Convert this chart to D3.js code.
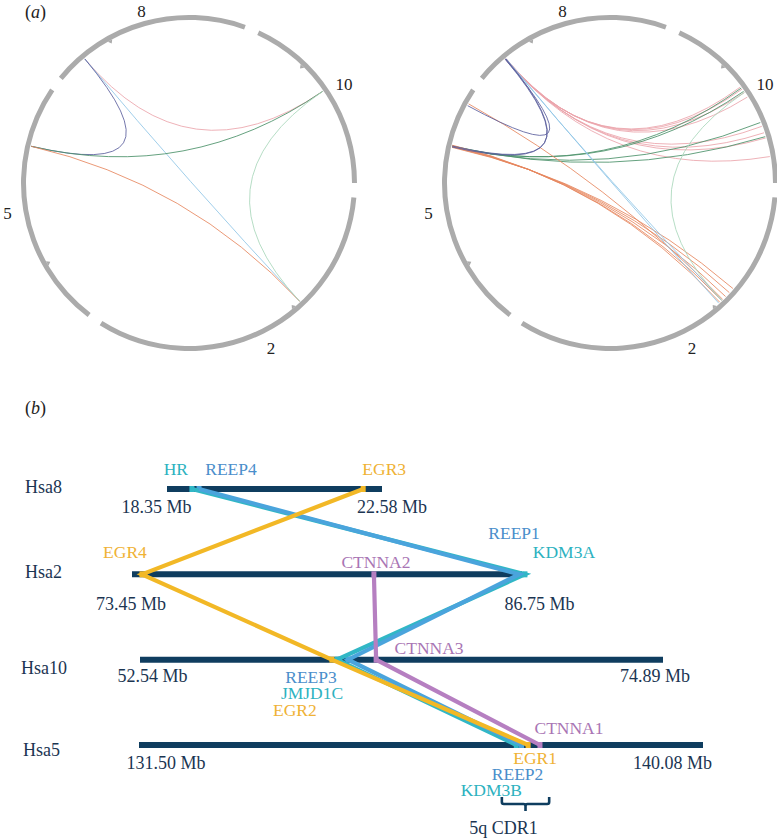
<!DOCTYPE html>
<html><head><meta charset="utf-8">
<script src="https://cdn.jsdelivr.net/npm/d3@7"></script>
<style>
body{margin:0;background:#fff}
svg{display:block}
svg text{font-family:'Liberation Serif','Times New Roman',Tinos,'DejaVu Serif','Noto Serif',Times,serif}
</style>
</head><body>
<svg id="c" width="777" height="838"></svg>
<script>
// ================= DATA =================
// (a) circos: chromosomes (Mb)
const circChroms = ["2", "5", "8", "10"];
const circLengths = [243.2, 180.9, 146.4, 135.5];
const circCentromeres = [93.3, 48.4, 45.2, 40.2];

// links: [chromA, posA (Mb), chromB, posB (Mb)]
const leftLinks = [
  ["8", 22.3, "10", 64],
  ["8", 22.3, "2", 87],
  ["8", 22.3, "5", 137],
  ["5", 137, "10", 64],
  ["5", 137, "2", 87],
  ["10", 64, "2", 87]
];
const rightLinks = [
  ["8", 21.8, "10", 60], ["8", 22.0, "10", 62], ["8", 22.3, "10", 65], ["8", 22.6, "10", 69],
  ["8", 21.9, "10", 93], ["8", 22.2, "10", 98], ["8", 22.5, "10", 102], ["8", 22.1, "10", 116],
  ["5", 136.6, "10", 61], ["5", 137.0, "10", 64], ["5", 136.8, "10", 90], ["5", 137.2, "10", 101],
  ["5", 136.2, "2", 74], ["5", 136.6, "2", 78], ["5", 137.0, "2", 82], ["5", 137.4, "2", 86], ["5", 137.8, "2", 88],
  ["5", 170.5, "2", 85],
  ["8", 22.2, "2", 86], ["8", 22.6, "2", 89],
  ["8", 21.8, "5", 136.5], ["8", 22.4, "5", 137.2], ["5", 169, "8", 22.0],
  ["10", 65, "2", 86]
];

// (b) synteny panel
const bChroms = ["Hsa8", "Hsa2", "Hsa10", "Hsa5"];
const bStart = [18.35, 73.45, 52.54, 131.50];
const bEnd = [22.58, 86.75, 74.89, 140.08];
const genes = ["HR", "REEP4", "EGR3", "EGR4", "CTNNA2", "REEP1", "KDM3A", "REEP3", "JMJD1C", "EGR2", "CTNNA3", "CTNNA1", "EGR1", "REEP2", "KDM3B"];
const geneChrom = ["Hsa8", "Hsa8", "Hsa8", "Hsa2", "Hsa2", "Hsa2", "Hsa2", "Hsa10", "Hsa10", "Hsa10", "Hsa10", "Hsa5", "Hsa5", "Hsa5", "Hsa5"];
const genePos = [18.84, 18.98, 22.21, 73.79, 81.70, 86.65, 86.85, 61.43, 60.96, 60.74, 62.63, 137.60, 137.42, 137.32, 137.24];
const geneFamily = ["KDM", "REEP", "EGR", "EGR", "CTNNA", "REEP", "KDM", "REEP", "KDM", "EGR", "CTNNA", "CTNNA", "EGR", "REEP", "KDM"];
const families = ["KDM", "REEP", "CTNNA", "EGR"];
const cdrRegion = [137.02, 137.74];

// ================= STYLE / LAYOUT =================
const pairColor = {"8|10": "#eba4ab", "8|2": "#8fc6e6", "8|5": "#5c5f9d", "5|10": "#4a9168", "5|2": "#e6875f", "10|2": "#a9d7bb"};
const famLine = {KDM: "#31b7c6", REEP: "#4aa4dc", EGR: "#f2b826", CTNNA: "#b67fc1"};
const famText = {KDM: "#2db2bf", REEP: "#4a8ecb", EGR: "#efb235", CTNNA: "#a975b4"};
const navy = "#0f3d5f", navyText = "#1b3552";

const barRange = [[167, 382], [132, 522], [140, 663], [139, 703]];
const rowLabel = [{x: 25, dy: -2}, {x: 25, dy: -3}, {x: 21, dy: 8}, {x: 23, dy: 5}];
const mbLab = [{s: -10.5, e: 10, dy: 18}, {s: -1, e: 17.5, dy: 29}, {s: 12.5, e: -8, dy: 16}, {s: 27, e: -30.5, dy: 18}];
const geneLab = {HR: [-16, -20], REEP4: [32, -20], EGR3: [21, -20], EGR4: [-17, -22], CTNNA2: [2, -12],
  REEP1: [-5, -41], KDM3A: [39, -22], REEP3: [-37, 17], JMJD1C: [-25, 33], EGR2: [-37, 50], CTNNA3: [53, -12],
  CTNNA1: [29, -17], EGR1: [7, 13], REEP2: [-4, 29], KDM3B: [-25, 45]};

const svg = d3.select("#c");
const rad = d => d * Math.PI / 180;

// ================= (a) =================
svg.append("text").attr("x", 25).attr("y", 12).attr("dy", "0.35em").attr("font-size", 18).attr("fill", "#222")
  .html('(<tspan font-style="italic">a</tspan>)');

const gapDeg = 5, startDeg = 95;
const degPerMb = (360 - gapDeg * circChroms.length) / d3.sum(circLengths);
const angleScale = {};
let acc = startDeg;
circChroms.forEach((c, i) => {
  const e = acc + circLengths[i] * degPerMb;
  angleScale[c] = d3.scaleLinear().domain([0, circLengths[i]]).range([acc, e]);
  acc = e + gapDeg;
});
const R_IN = 163, R_OUT = 168;
const R_LAB = {"2": 184, "5": 184, "8": 178, "10": 184};
const pt = (c, mb, r) => { const a = rad(angleScale[c](mb)); return [r * Math.sin(a), -r * Math.cos(a)]; };
const keyOf = (a, b) => pairColor[a + "|" + b] ? a + "|" + b : b + "|" + a;

function drawCircos(cx, cy, links) {
  const g = svg.append("g").attr("transform", `translate(${cx},${cy})`);
  const arc = d3.arc().innerRadius(R_IN).outerRadius(R_OUT);
  circChroms.forEach((c, i) => {
    const sc = angleScale[c];
    g.append("path").attr("d", arc({startAngle: rad(sc(0)), endAngle: rad(sc(circLengths[i]))})).attr("fill", "#ababab");
    const a = sc(circCentromeres[i]);
    const p1 = pt(c, circCentromeres[i], R_IN - 3.5);
    const pa = [R_IN * Math.sin(rad(a - 0.9)), -R_IN * Math.cos(rad(a - 0.9))];
    const pb = [R_IN * Math.sin(rad(a + 0.9)), -R_IN * Math.cos(rad(a + 0.9))];
    g.append("path").attr("d", `M${pa}L${p1}L${pb}Z`).attr("fill", "#ababab");
    const lp = pt(c, circLengths[i] / 2, R_LAB[c]);
    g.append("text").attr("x", lp[0]).attr("y", lp[1]).attr("dy", "0.35em").attr("text-anchor", "middle")
      .attr("font-size", 17).attr("fill", "#222").text(c);
  });
  links.forEach(l => {
    const p1 = pt(l[0], l[1], R_IN - 1), p2 = pt(l[2], l[3], R_IN - 1);
    g.append("path").attr("d", `M${p1}Q0,0 ${p2}`).attr("fill", "none")
      .attr("stroke", pairColor[keyOf(l[0], l[2])]).attr("stroke-width", 0.9).attr("opacity", 0.95);
  });
}
drawCircos(189, 183, leftLinks);
drawCircos(610, 183, rightLinks);

// ================= (b) =================
svg.append("text").attr("x", 25).attr("y", 408).attr("dy", "0.35em").attr("font-size", 18).attr("fill", "#222")
  .html('(<tspan font-style="italic">b</tspan>)');

const rowY = d3.scalePoint().domain(bChroms).range([489, 745]);
const xS = {};
bChroms.forEach((c, i) => xS[c] = d3.scaleLinear().domain([bStart[i], bEnd[i]]).range(barRange[i]));
const gx = i => xS[geneChrom[i]](genePos[i]);

const gb = svg.append("g");
bChroms.forEach((c, i) => {
  const y = rowY(c);
  gb.append("line").attr("x1", xS[c](bStart[i])).attr("x2", xS[c](bEnd[i])).attr("y1", y).attr("y2", y)
    .attr("stroke", navy).attr("stroke-width", 6);
  gb.append("text").attr("x", rowLabel[i].x).attr("y", y + rowLabel[i].dy).attr("dy", "0.35em")
    .attr("font-size", 18).attr("fill", navyText).text(c);
  gb.append("text").attr("x", xS[c](bStart[i]) + mbLab[i].s).attr("y", y + mbLab[i].dy).attr("dy", "0.35em")
    .attr("text-anchor", "middle").attr("font-size", 18).attr("fill", navyText).text(d3.format(".2f")(bStart[i]) + " Mb");
  gb.append("text").attr("x", xS[c](bEnd[i]) + mbLab[i].e).attr("y", y + mbLab[i].dy).attr("dy", "0.35em")
    .attr("text-anchor", "middle").attr("font-size", 18).attr("fill", navyText).text(d3.format(".2f")(bEnd[i]) + " Mb");
});

// markers on bars
genes.forEach((g, i) => {
  gb.append("rect").attr("x", gx(i) - 2.5).attr("y", rowY(geneChrom[i]) - 3).attr("width", 5).attr("height", 6)
    .attr("fill", famLine[geneFamily[i]]);
});

// family chains
const line = d3.line();
families.forEach(f => {
  const idx = genes.map((g, i) => i).filter(i => geneFamily[i] === f)
    .sort((a, b) => bChroms.indexOf(geneChrom[a]) - bChroms.indexOf(geneChrom[b]));
  const pts = idx.map(i => [gx(i), rowY(geneChrom[i])]);
  gb.append("path").attr("d", line(pts)).attr("fill", "none").attr("stroke", famLine[f])
    .attr("stroke-width", 4.2).attr("stroke-linejoin", "miter");
});

// gene labels
genes.forEach((g, i) => {
  const o = geneLab[g];
  gb.append("text").attr("x", gx(i) + o[0]).attr("y", rowY(geneChrom[i]) + o[1]).attr("dy", "0.35em")
    .attr("text-anchor", "middle").attr("font-size", 17.5).attr("fill", famText[geneFamily[i]]).text(g);
});

// 5q CDR1 bracket
const bx0 = xS["Hsa5"](cdrRegion[0]), bx1 = xS["Hsa5"](cdrRegion[1]), bm = (bx0 + bx1) / 2;
const by = 797;
gb.append("path").attr("d", `M${bx0},${by}V${by + 5}Q${bx0},${by + 7} ${bx0 + 2},${by + 7}H${bm - 2}Q${bm},${by + 7} ${bm},${by + 9}V${by + 14}M${bm},${by + 9}Q${bm},${by + 7} ${bm + 2},${by + 7}H${bx1 - 2}Q${bx1},${by + 7} ${bx1},${by + 5}V${by}`)
  .attr("fill", "none").attr("stroke", navy).attr("stroke-width", 2.6);
gb.append("text").attr("x", bm - 22).attr("y", 828).attr("dy", "0.35em").attr("text-anchor", "middle")
  .attr("font-size", 18).attr("fill", navyText).text("5q CDR1");
</script>
</body></html>
